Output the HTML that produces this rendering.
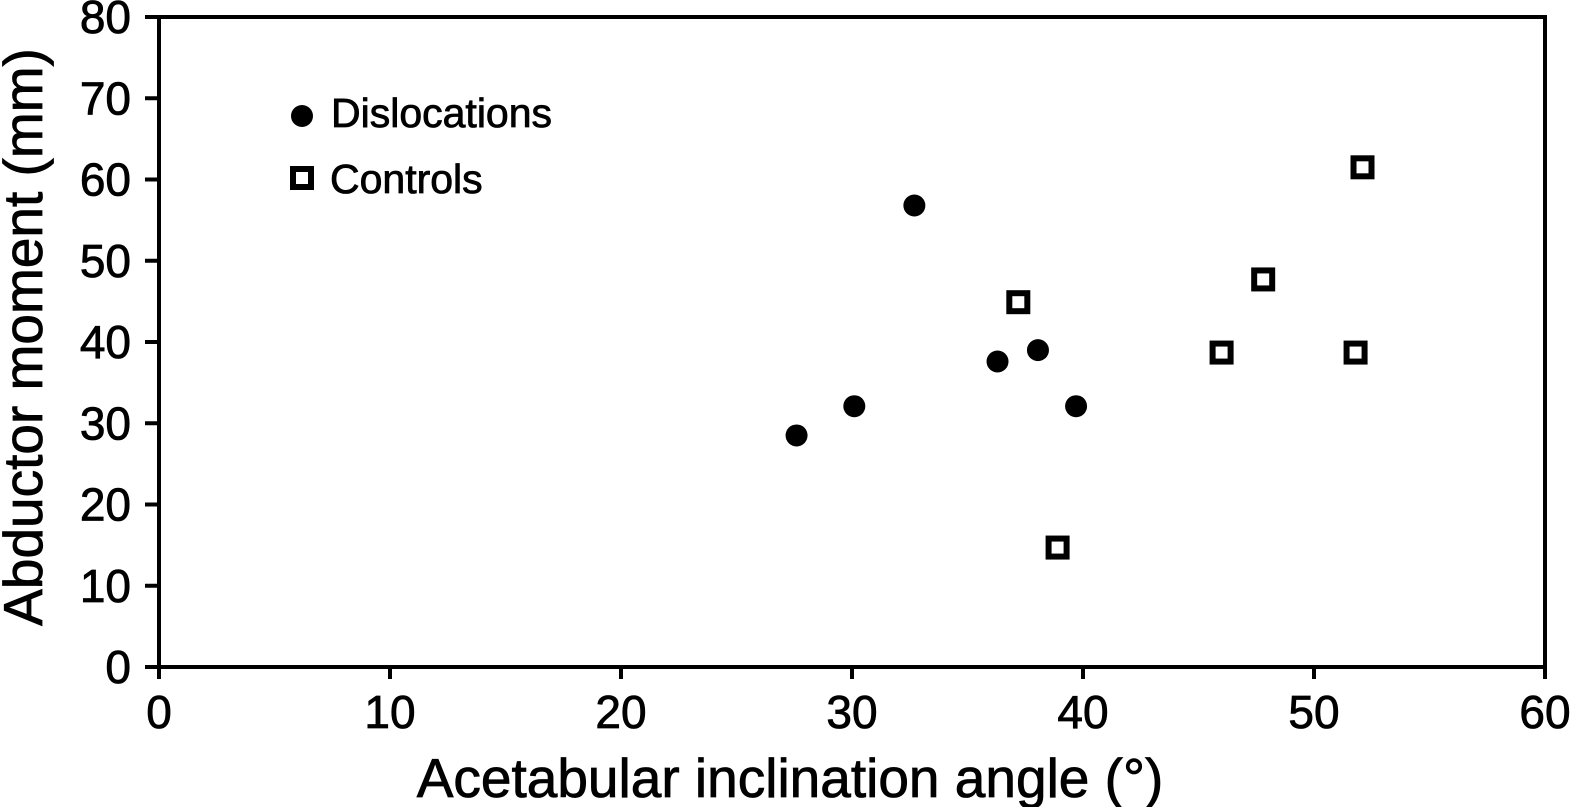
<!DOCTYPE html>
<html><head><meta charset="utf-8"><style>
body{margin:0;background:#fff}
svg text{font-family:"Liberation Sans",sans-serif;fill:#000;stroke:#000;stroke-width:0.8}
</style></head><body>
<svg id="c" width="1570" height="807" viewBox="0 0 1570 807"></svg>
<script>
const xTicks=[0,10,20,30,40,50,60];
const yTicks=[0,10,20,30,40,50,60,70,80];
const dislocX=[27.6,30.1,32.7,36.3,38.05,39.7];
const dislocY=[28.5,32.1,56.8,37.6,39.0,32.1];
const controlX=[37.2,38.9,46.0,47.8,51.8,52.1];
const controlY=[44.9,14.7,38.7,47.7,38.7,61.5];
const L=159,R=1545,T=17,B=667;
const sx=v=>L+(v-0)/60*(R-L);
const sy=v=>B-(v-0)/80*(B-T);
const svg=document.getElementById('c');
const NS='http://www.w3.org/2000/svg';
function mk(tag,attrs,parent){const e=document.createElementNS(NS,tag);for(const k in attrs)e.setAttribute(k,attrs[k]);(parent||svg).appendChild(e);return e;}
let f=mk('rect',{x:L,y:T,width:R-L,height:B-T,fill:'none',stroke:'#000','stroke-width':4});


xTicks.forEach(v=>{
 let t=mk('line',{x1:sx(v),x2:sx(v),y1:B,y2:B+12,stroke:'#000','stroke-width':4});
 
 
 let l=mk('text',{x:sx(v),y:B+61,'font-size':46,'text-anchor':'middle'});l.textContent=v;
 
 
});
yTicks.forEach(v=>{
 let t=mk('line',{x1:L-14,x2:L,y1:sy(v),y2:sy(v),stroke:'#000','stroke-width':4});
 
 
 let l=mk('text',{x:L-28,y:sy(v)+16,'font-size':46,'text-anchor':'end'});l.textContent=v;
 
 
});
let xt=mk('text',{x:790,y:797,'font-size':55,'text-anchor':'middle'});xt.textContent='Acetabular inclination angle (°)';


let yt=mk('text',{x:0,y:0,'font-size':55,'text-anchor':'middle',transform:'translate(42,337) rotate(-90)'});yt.textContent='Abductor moment (mm)';


dislocX.forEach((x,i)=>{
 let c=mk('circle',{cx:sx(x),cy:sy(dislocY[i]),r:11,fill:'#000'});
 
 
});
controlX.forEach((x,i)=>{
 let r=mk('rect',{x:sx(x)-9,y:sy(controlY[i])-9,width:18,height:18,fill:'#fff',stroke:'#000','stroke-width':6});
 
 
});
let lc=mk('circle',{cx:302,cy:116,r:11,fill:'#000'});


let lt1=mk('text',{x:331,y:127,'font-size':41});lt1.textContent='Dislocations';


let lr=mk('rect',{x:293,y:169,width:18,height:18,fill:'#fff',stroke:'#000','stroke-width':6});


let lt2=mk('text',{x:330,y:193,'font-size':41});lt2.textContent='Controls';


</script>
</body></html>
